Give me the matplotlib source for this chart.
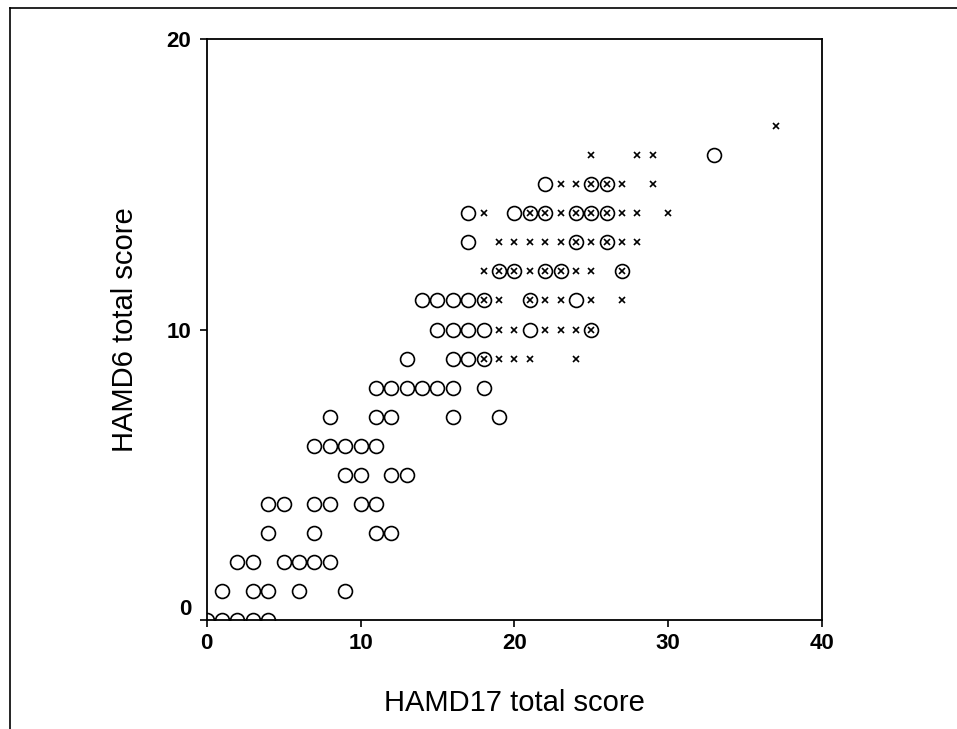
import matplotlib
matplotlib.use("Agg")
import matplotlib.pyplot as plt
from matplotlib.lines import Line2D

# Group 1 (open circles): HAMD17 (x) vs HAMD6 (y)
circle_x = [0, 1, 2, 3, 4,
            1, 3, 4, 6, 9,
            2, 3, 5, 6, 7, 8,
            4, 7, 11, 12,
            4, 5, 7, 8, 10, 11,
            9, 10, 12, 13,
            7, 8, 9, 10, 11,
            8, 11, 12, 16, 19,
            11, 12, 13, 14, 15, 16, 18,
            13, 16, 17, 18,
            15, 16, 17, 18, 21, 25,
            14, 15, 16, 17, 18, 21, 24,
            19, 20, 22, 23, 27,
            17, 24, 26,
            17, 20, 21, 22, 24, 25, 26,
            22, 25, 26,
            33]
circle_y = [0, 0, 0, 0, 0,
            1, 1, 1, 1, 1,
            2, 2, 2, 2, 2, 2,
            3, 3, 3, 3,
            4, 4, 4, 4, 4, 4,
            5, 5, 5, 5,
            6, 6, 6, 6, 6,
            7, 7, 7, 7, 7,
            8, 8, 8, 8, 8, 8, 8,
            9, 9, 9, 9,
            10, 10, 10, 10, 10, 10,
            11, 11, 11, 11, 11, 11, 11,
            12, 12, 12, 12, 12,
            13, 13, 13,
            14, 14, 14, 14, 14, 14, 14,
            15, 15, 15,
            16]

# Group 2 (crosses)
cross_x = [18, 19, 20, 21, 24,
           19, 20, 22, 23, 24, 25,
           18, 19, 21, 22, 23, 25, 27,
           18, 19, 20, 21, 22, 23, 24, 25, 27,
           19, 20, 21, 22, 23, 24, 25, 26, 27, 28,
           18, 21, 22, 23, 24, 25, 26, 27, 28, 30,
           23, 24, 25, 26, 27, 29,
           25, 28, 29,
           37]
cross_y = [9, 9, 9, 9, 9,
           10, 10, 10, 10, 10, 10,
           11, 11, 11, 11, 11, 11, 11,
           12, 12, 12, 12, 12, 12, 12, 12, 12,
           13, 13, 13, 13, 13, 13, 13, 13, 13, 13,
           14, 14, 14, 14, 14, 14, 14, 14, 14, 14,
           15, 15, 15, 15, 15, 15,
           16, 16, 16,
           17]

x_ticks = [0, 10, 20, 30, 40]
y_ticks = [0, 10, 20]
x_label = "HAMD17 total score"
y_label = "HAMD6 total score"

plt.rcParams['font.family'] = ['Liberation Sans', 'DejaVu Sans']

fig = plt.figure(figsize=(9.57, 7.29), dpi=100)
ax = fig.add_axes([0.216, 0.1495, 0.643, 0.797])

ax.plot(circle_x, circle_y, linestyle='none', marker='o', markersize=10,
        markerfacecolor='none', markeredgecolor='black', markeredgewidth=1.2)
ax.plot(cross_x, cross_y, linestyle='none', marker='x', markersize=4.5,
        markeredgecolor='black', markeredgewidth=1.2)

ax.set_xlim(0, 40)
ax.set_ylim(0, 20)
ax.set_xticks(x_ticks)
ax.set_yticks(y_ticks)
ax.set_xticklabels([str(t) for t in x_ticks], fontsize=16, fontweight='bold')
ax.set_yticklabels([str(t) for t in y_ticks], fontsize=16, fontweight='bold')
ax.tick_params(axis='x', direction='out', length=5, width=1.2, pad=4, colors='black')
ax.tick_params(axis='y', direction='out', length=5, width=1.2, pad=6, colors='black')
for s in ax.spines.values():
    s.set_linewidth(1.3)
    s.set_color('black')

# shift the y "0" label up as in the reference
ylabs = ax.get_yticklabels()
ylabs[0].set_verticalalignment('bottom')

ax.set_xlabel(x_label, fontsize=21, va='center')
ax.xaxis.set_label_coords(0.5, -(703 - 620) / 581)
ax.set_ylabel(y_label, fontsize=21, va='center')
ax.yaxis.set_label_coords((125 - 207) / 615, 0.5)

# outer frame lines (top and left)
fig.add_artist(Line2D([10 / 957, 10 / 957], [0, 1 - 8 / 729], transform=fig.transFigure,
                      color='black', linewidth=1.2))
fig.add_artist(Line2D([10 / 957, 1], [1 - 8 / 729, 1 - 8 / 729], transform=fig.transFigure,
                      color='black', linewidth=1.2))

fig.savefig("out.png", dpi=100, facecolor='white')
